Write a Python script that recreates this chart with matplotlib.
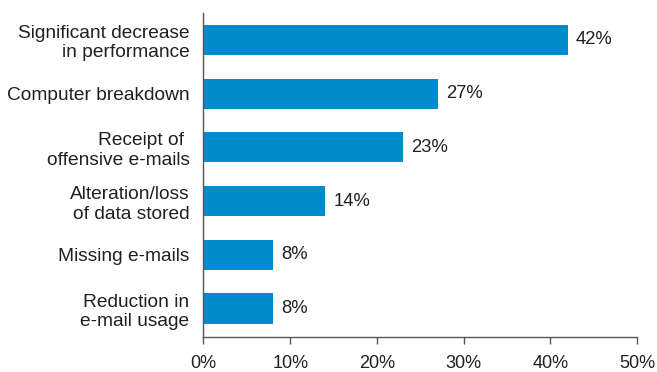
import numpy as np
import matplotlib.pyplot as plt

plt.rcParams['font.family'] = ['Liberation Sans', 'DejaVu Sans']

# survey results: consequences reported
categories = ['Significant decrease\nin performance', 'Computer breakdown',
              'Receipt of \noffensive e-mails', 'Alteration/loss\nof data stored',
              'Missing e-mails', 'Reduction in\ne-mail usage']
values = [42, 27, 23, 14, 8, 8]
xticks = [0, 10, 20, 30, 40, 50]

bar_color = '#008ccc'
text_color = '#231f20'
axis_color = '#555555'

fig = plt.figure(figsize=(6.57, 3.72), dpi=100)
ax = fig.add_axes([0.3097, 0.0941, 0.66, 0.871])

y = np.arange(len(categories))
ax.barh(y, values, height=0.56, color=bar_color)

for yi, v in zip(y, values):
    ax.annotate(f'{v}%', xy=(v, yi), xytext=(6, 0), textcoords='offset points',
                va='center', ha='left', fontsize=13.3, color=text_color)

ax.set_xlim(0, 50)
ax.set_ylim(len(categories) - 0.47, -0.5)
ax.set_xticks(xticks)
ax.set_xticklabels([f'{t}%' for t in xticks])
ax.set_yticks(y)
ax.set_yticklabels(categories, multialignment='right', linespacing=1.2)

ax.tick_params(axis='y', length=0, pad=10, labelsize=13.8, labelcolor=text_color)
ax.tick_params(axis='x', length=5, width=1, color=axis_color, pad=8,
               labelsize=13, labelcolor=text_color)

for s in ['top', 'right']:
    ax.spines[s].set_visible(False)
for s in ['left', 'bottom']:
    ax.spines[s].set_color(axis_color)
    ax.spines[s].set_linewidth(1)

fig.savefig('out.png', dpi=100)
